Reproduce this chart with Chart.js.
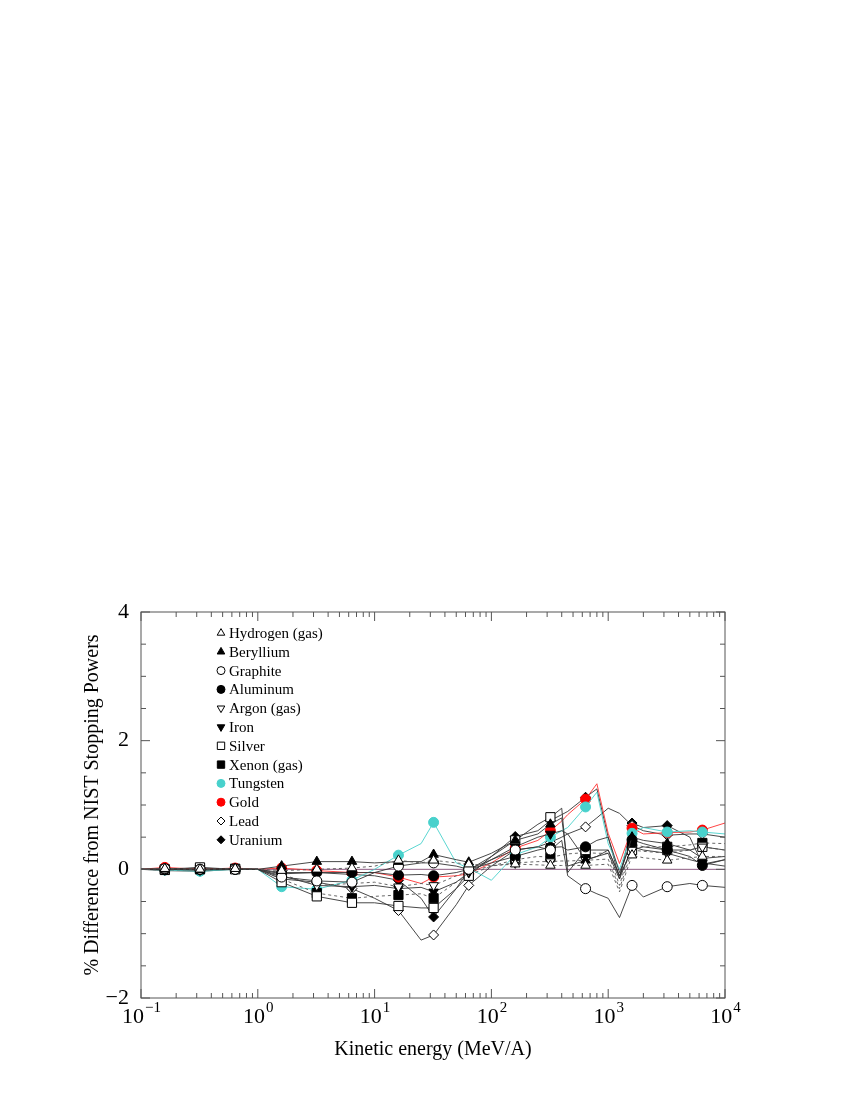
<!DOCTYPE html>
<html>
<head>
<meta charset="utf-8">
<script src="https://cdn.jsdelivr.net/npm/chart.js@4.4.1/dist/chart.umd.min.js"></script>
<style>
html, body { margin: 0; padding: 0; background: #fff; }
</style>
</head>
<body>
<canvas id="stopping" width="850" height="1100"></canvas>
<script>
// kinetic energy grid (MeV/A) where the curves have vertices
const energies = [0.1, 0.16, 0.32, 0.64, 1, 1.6, 3.2, 6.4, 10, 16, 25, 32, 50, 64, 100,
                  160, 250, 320, 400, 450, 640, 800, 1000, 1250, 1600, 2000, 3200, 5000, 6400, 10000];
// energies that carry a symbol
const markedEnergies = [0.16, 0.32, 0.64, 1.6, 3.2, 6.4, 16, 32, 64, 160, 320, 640, 1600, 3200, 6400];

const xTicks = [0.1, 1, 10, 100, 1000, 10000];
const xTickExp = ['\u22121', '0', '1', '2', '3', '4'];
const yTicks = [-2, 0, 2, 4];

// % difference from NIST, one list per target
const hydrogen  = [0, 0.01, 0.0, 0.01, 0, -0.02, 0.0, 0.02, 0.05, 0.14, 0.1, 0.14, 0.1, 0.08, 0.06,
                   0.08, 0.07, 0.06, 0.06, 0.06, 0.06, 0.07, 0.08, -0.35, 0.22, 0.18, 0.14, 0.18, 0.2, 0.2];
const beryllium = [0, 0.0, -0.01, 0.01, 0, 0.05, 0.12, 0.12, 0.1, 0.12, 0.12, 0.23, 0.15, 0.11, 0.25,
                   0.45, 0.55, 0.7, 0.8, 0.05, 0.14, 0.2, 0.3, -0.1, 0.5, 0.45, 0.4, 0.3, 0.17, 0.2];
const graphite  = [0, 0.01, 0.0, 0.0, 0, -0.12, -0.18, -0.2, -0.05, 0.05, 0.1, 0.1, 0.05, 0.0, 0.15,
                   0.3, 0.35, 0.3, 0.45, -0.1, -0.3, -0.38, -0.45, -0.75, -0.25, -0.43, -0.27, -0.22, -0.25, -0.28];
const aluminum  = [0, 0.0, 0.0, 0.0, 0, -0.05, -0.05, -0.05, -0.05, -0.09, -0.08, -0.1, -0.05, 0.0, 0.1,
                   0.2, 0.3, 0.34, 0.35, 0.3, 0.35, 0.45, 0.5, -0.05, 0.46, 0.4, 0.3, 0.2, 0.06, 0.15];
const argon     = [0, 0.0, 0.01, 0.0, 0, -0.08, -0.25, -0.22, -0.2, -0.27, -0.22, -0.25, -0.1, -0.03, 0.05,
                   0.1, 0.12, 0.12, 0.13, 0.13, 0.14, 0.15, 0.16, -0.3, 0.3, 0.28, 0.25, 0.3, 0.35, 0.3];
const iron      = [0, 0.0, -0.01, 0.0, 0, -0.1, -0.25, -0.27, -0.25, -0.3, -0.28, -0.35, -0.2, -0.05, 0.15,
                   0.35, 0.5, 0.55, 0.6, 0.55, 0.15, 0.2, 0.25, -0.15, 0.35, 0.3, 0.25, 0.15, 0.1, 0.05];
const silver    = [0, 0.0, 0.03, 0.0, 0, -0.2, -0.42, -0.52, -0.52, -0.57, -0.6, -0.6, -0.3, -0.1, 0.2,
                   0.45, 0.7, 0.81, 0.95, -0.05, 0.3, 0.3, 0.3, -0.1, 0.3, 0.35, 0.3, 0.3, 0.35, 0.3];
const xenon     = [0, -0.01, 0.0, 0.01, 0, -0.15, -0.37, -0.45, -0.42, -0.4, -0.38, -0.45, -0.2, -0.09, 0.05,
                   0.15, 0.2, 0.19, 0.22, 0.24, 0.26, 0.25, 0.25, -0.25, 0.4, 0.35, 0.35, 0.38, 0.41, 0.4];
const tungsten  = [0, -0.01, -0.03, 0.0, 0, -0.27, -0.31, -0.17, 0.0, 0.22, 0.4, 0.73, 0.1, 0.02, -0.17,
                   0.23, 0.35, 0.5, 0.6, 0.65, 0.97, 1.2, 0.4, 0.0, 0.56, 0.65, 0.58, 0.6, 0.58, 0.55];
const gold      = [0, 0.03, 0.0, 0.02, 0, 0.02, -0.02, -0.05, -0.05, -0.12, -0.22, -0.12, -0.1, -0.07, 0.1,
                   0.33, 0.45, 0.6, 0.75, 0.85, 1.09, 1.33, 0.56, 0.09, 0.64, 0.55, 0.57, 0.58, 0.61, 0.72];
const lead      = [0, 0.0, 0.02, 0.0, 0, -0.15, -0.2, -0.3, -0.45, -0.64, -1.1, -1.02, -0.55, -0.25, 0.05,
                   0.3, 0.35, 0.42, 0.5, 0.55, 0.66, 0.8, 0.95, 0.87, 0.68, 0.6, 0.53, 0.55, 0.55, 0.5];
const uranium   = [0, -0.02, -0.03, 0.0, 0, -0.07, -0.05, -0.08, -0.1, -0.17, -0.45, -0.74, -0.3, -0.01, 0.2,
                   0.51, 0.6, 0.76, 0.85, 0.9, 1.12, 1.25, 0.5, -0.15, 0.72, 0.65, 0.68, 0.5, 0.08, 0.15];

const seriesNames = ['Hydrogen (gas)', 'Beryllium', 'Graphite', 'Aluminum', 'Argon (gas)', 'Iron',
                     'Silver', 'Xenon (gas)', 'Tungsten', 'Gold', 'Lead', 'Uranium'];
const seriesValues = [hydrogen, beryllium, graphite, aluminum, argon, iron,
                      silver, xenon, tungsten, gold, lead, uranium];

// marker + line look for each target
const OPEN = '#ffffff', INK = '#000000';
const looks = [
    {shape: 'triangle', rot: 0,   size: 5.5, fill: OPEN, edge: INK, line: '#555', dash: [3, 3]},
    {shape: 'triangle', rot: 0,   size: 5.5, fill: INK,  edge: INK, line: '#333'},
    {shape: 'circle',   rot: 0,   size: 5,   fill: OPEN, edge: INK, line: '#333'},
    {shape: 'circle',   rot: 0,   size: 5,   fill: INK,  edge: INK, line: '#333'},
    {shape: 'triangle', rot: 180, size: 5.5, fill: OPEN, edge: INK, line: '#555', dash: [3, 3]},
    {shape: 'triangle', rot: 180, size: 5.5, fill: INK,  edge: INK, line: '#333'},
    {shape: 'rect',     rot: 0,   size: 6.5, fill: OPEN, edge: INK, line: '#333'},
    {shape: 'rect',     rot: 0,   size: 6.5, fill: INK,  edge: INK, line: '#555', dash: [3, 3]},
    {shape: 'circle',   rot: 0,   size: 5,   fill: '#48d1cc', edge: '#48d1cc', line: '#48d1cc'},
    {shape: 'circle',   rot: 0,   size: 5,   fill: '#ff0000', edge: '#ff0000', line: '#ff3030'},
    {shape: 'rectRot',  rot: 0,   size: 5,   fill: OPEN, edge: INK, line: '#333'},
    {shape: 'rectRot',  rot: 0,   size: 5,   fill: INK,  edge: INK, line: '#333'}
];

const datasets = seriesNames.map((name, k) => {
    const look = looks[k];
    return {
        label: name,
        data: energies.map((e, i) => ({x: e, y: seriesValues[k][i]})),
        borderColor: look.line,
        borderWidth: 0.9,
        borderDash: look.dash || [],
        tension: 0,
        fill: false,
        pointStyle: look.shape,
        pointRotation: look.rot,
        pointRadius: energies.map(e => markedEnergies.includes(e) ? look.size : 0),
        pointBackgroundColor: look.fill,
        pointBorderColor: look.edge,
        pointBorderWidth: 1
    };
});

const SERIF = '"Liberation Serif", "DejaVu Serif", serif';

// frame, inward ticks, labels, titles and the symbol key
const overlay = {
    id: 'overlay',
    beforeDatasetsDraw(chart) {
        const {ctx, chartArea: a, scales: {y}} = chart;
        ctx.save();
        ctx.strokeStyle = '#8c5a80';
        ctx.lineWidth = 1;
        ctx.beginPath();
        ctx.moveTo(a.left, y.getPixelForValue(0));
        ctx.lineTo(a.right, y.getPixelForValue(0));
        ctx.stroke();
        ctx.restore();
    },
    afterDraw(chart) {
        const {ctx, chartArea: a, scales: {x, y}} = chart;
        ctx.save();
        ctx.strokeStyle = '#555';
        ctx.lineWidth = 1;
        ctx.strokeRect(a.left, a.top, a.right - a.left, a.bottom - a.top);

        ctx.beginPath();
        // x ticks: decades long, 2..9 short
        for (let p = -1; p <= 4; p++) {
            for (let m = 1; m <= 9; m++) {
                const v = m * Math.pow(10, p);
                if (v > 10000) break;
                const px = x.getPixelForValue(v);
                const len = m === 1 ? 9 : 5;
                ctx.moveTo(px, a.bottom); ctx.lineTo(px, a.bottom - len);
                ctx.moveTo(px, a.top); ctx.lineTo(px, a.top + len);
            }
        }
        // y ticks every 0.5
        for (let v = -2; v <= 4; v += 0.5) {
            const py = y.getPixelForValue(v);
            const len = yTicks.includes(v) ? 9 : 5;
            ctx.moveTo(a.left, py); ctx.lineTo(a.left + len, py);
            ctx.moveTo(a.right, py); ctx.lineTo(a.right - len, py);
        }
        ctx.stroke();

        ctx.fillStyle = '#000';
        // y labels
        ctx.font = '22px ' + SERIF;
        ctx.textAlign = 'right';
        ctx.textBaseline = 'middle';
        yTicks.forEach(v => {
            const txt = v < 0 ? '\u2212' + Math.abs(v) : String(v);
            ctx.fillText(txt, a.left - 12, y.getPixelForValue(v));
        });
        // x labels 10^n
        ctx.textBaseline = 'alphabetic';
        ctx.textAlign = 'left';
        xTicks.forEach((v, i) => {
            ctx.font = '22px ' + SERIF;
            const wBase = ctx.measureText('10').width;
            ctx.font = '15px ' + SERIF;
            const wExp = ctx.measureText(xTickExp[i]).width;
            const x0 = x.getPixelForValue(v) - (wBase + wExp) / 2;
            ctx.font = '22px ' + SERIF;
            ctx.fillText('10', x0, a.bottom + 25);
            ctx.font = '15px ' + SERIF;
            ctx.fillText(xTickExp[i], x0 + wBase + 1, a.bottom + 14);
        });
        // axis titles
        ctx.font = '20px ' + SERIF;
        ctx.textAlign = 'center';
        ctx.fillText('Kinetic energy (MeV/A)', (a.left + a.right) / 2, a.bottom + 57);
        ctx.save();
        ctx.translate(a.left - 48, (a.top + a.bottom) / 2);
        ctx.rotate(-Math.PI / 2);
        ctx.textBaseline = 'middle';
        ctx.fillText('% Difference from NIST Stopping Powers', 0, 0);
        ctx.restore();

        // key
        ctx.font = '15px ' + SERIF;
        ctx.textAlign = 'left';
        ctx.textBaseline = 'middle';
        seriesNames.forEach((name, k) => {
            const look = looks[k];
            const ry = a.top + 21 + k * 18.8;
            ctx.fillStyle = look.fill;
            ctx.strokeStyle = look.edge;
            ctx.lineWidth = 1;
            Chart.helpers.drawPoint(ctx, {
                pointStyle: look.shape,
                rotation: look.rot,
                radius: look.size * 0.8,
                borderWidth: 1
            }, a.left + 80, ry);
            ctx.fillStyle = '#000';
            ctx.fillText(name, a.left + 88, ry + 1);
        });
        ctx.restore();
    }
};

const stopping = new Chart(document.getElementById('stopping').getContext('2d'), {
    type: 'line',
    data: {datasets: datasets},
    options: {
        responsive: false,
        animation: false,
        events: [],
        layout: {
            autoPadding: false,
            padding: {left: 141, right: 125, top: 612, bottom: 102}
        },
        plugins: {legend: {display: false}, tooltip: {enabled: false}},
        scales: {
            x: {type: 'logarithmic', min: 0.1, max: 10000, display: false},
            y: {type: 'linear', min: -2, max: 4, display: false}
        }
    },
    plugins: [overlay]
});
</script>
</body>
</html>
